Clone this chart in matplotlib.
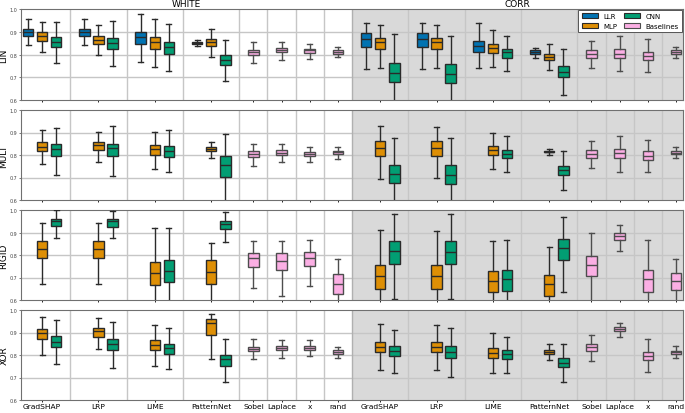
import matplotlib
matplotlib.use("Agg")
import matplotlib.pyplot as plt
from matplotlib.patches import Patch

METHODS = ["GradSHAP", "LRP", "LIME", "PatternNet"]
BASELINES = ["Sobel", "Laplace", "x", "rand"]
CONDITIONS = ["WHITE", "CORR"]
TASKS = ["LIN", "MULT", "RIGID", "XOR"]
MODELS = ["LLR", "MLP", "CNN"]

# each entry: (whisker low, q1, median, q3, whisker high)
# order: GradSHAP, LRP, LIME, PatternNet (WHITE), then the same for CORR
LIN_LLR = [
    (0.842, 0.883, 0.900, 0.912, 0.956),
    (0.842, 0.883, 0.900, 0.912, 0.956),
    (0.765, 0.845, 0.876, 0.900, 0.980),
    (0.838, 0.845, 0.851, 0.857, 0.864),
    (0.736, 0.831, 0.867, 0.896, 0.937),
    (0.736, 0.831, 0.867, 0.896, 0.937),
    (0.740, 0.813, 0.839, 0.861, 0.937),
    (0.784, 0.804, 0.812, 0.820, 0.829),
]
LIN_MLP = [
    (0.813, 0.861, 0.883, 0.898, 0.945),
    (0.800, 0.847, 0.864, 0.882, 0.931),
    (0.746, 0.825, 0.854, 0.877, 0.956),
    (0.791, 0.838, 0.854, 0.866, 0.914),
    (0.739, 0.823, 0.855, 0.874, 0.928),
    (0.739, 0.823, 0.853, 0.874, 0.928),
    (0.746, 0.807, 0.829, 0.848, 0.908),
    (0.730, 0.775, 0.791, 0.804, 0.848),
]
LIN_CNN = [
    (0.761, 0.831, 0.857, 0.877, 0.945),
    (0.748, 0.823, 0.850, 0.874, 0.946),
    (0.727, 0.804, 0.831, 0.857, 0.933),
    (0.685, 0.755, 0.777, 0.796, 0.864),
    (0.560, 0.677, 0.718, 0.761, 0.888),
    (0.555, 0.673, 0.715, 0.758, 0.883),
    (0.727, 0.785, 0.809, 0.823, 0.883),
    (0.623, 0.699, 0.723, 0.749, 0.825),
]
# order: Sobel, Laplace, x, rand (WHITE), then CORR
LIN_BASE = [
    (0.761, 0.797, 0.810, 0.820, 0.855),
    (0.777, 0.809, 0.818, 0.828, 0.857),
    (0.781, 0.807, 0.818, 0.825, 0.848),
    (0.787, 0.804, 0.812, 0.819, 0.835),
    (0.740, 0.785, 0.801, 0.818, 0.861),
    (0.726, 0.785, 0.804, 0.825, 0.883),
    (0.721, 0.775, 0.794, 0.813, 0.869),
    (0.784, 0.804, 0.812, 0.819, 0.835),
]

MULT_MLP = [
    (0.760, 0.818, 0.837, 0.856, 0.909),
    (0.769, 0.821, 0.843, 0.859, 0.903),
    (0.738, 0.801, 0.825, 0.843, 0.903),
    (0.788, 0.816, 0.826, 0.834, 0.860),
    (0.694, 0.797, 0.831, 0.863, 0.929),
    (0.699, 0.797, 0.831, 0.863, 0.926),
    (0.738, 0.800, 0.821, 0.838, 0.899),
    (0.800, 0.812, 0.815, 0.819, 0.826),
]
MULT_CNN = [
    (0.709, 0.794, 0.826, 0.851, 0.922),
    (0.706, 0.794, 0.829, 0.851, 0.931),
    (0.724, 0.793, 0.818, 0.838, 0.909),
    (0.560, 0.701, 0.754, 0.794, 0.894),
    (0.560, 0.675, 0.715, 0.754, 0.876),
    (0.555, 0.672, 0.713, 0.754, 0.875),
    (0.724, 0.785, 0.806, 0.824, 0.884),
    (0.643, 0.710, 0.732, 0.751, 0.816),
]
MULT_BASE = [
    (0.753, 0.791, 0.804, 0.816, 0.849),
    (0.769, 0.800, 0.810, 0.821, 0.847),
    (0.769, 0.796, 0.806, 0.813, 0.834),
    (0.784, 0.803, 0.812, 0.818, 0.835),
    (0.743, 0.787, 0.804, 0.821, 0.863),
    (0.725, 0.787, 0.807, 0.828, 0.884),
    (0.725, 0.778, 0.796, 0.816, 0.866),
    (0.785, 0.803, 0.810, 0.819, 0.835),
]

RIGID_MLP = [
    (0.672, 0.785, 0.827, 0.862, 0.943),
    (0.672, 0.785, 0.827, 0.862, 0.943),
    (0.560, 0.667, 0.720, 0.767, 0.919),
    (0.560, 0.673, 0.723, 0.779, 0.855),
    (0.540, 0.650, 0.708, 0.754, 0.909),
    (0.540, 0.650, 0.708, 0.754, 0.905),
    (0.560, 0.637, 0.685, 0.729, 0.862),
    (0.540, 0.619, 0.669, 0.710, 0.837),
]
RIGID_CNN = [
    (0.877, 0.928, 0.949, 0.960, 1.000),
    (0.877, 0.925, 0.949, 0.960, 0.996),
    (0.560, 0.678, 0.729, 0.776, 0.919),
    (0.859, 0.915, 0.938, 0.953, 0.991),
    (0.606, 0.761, 0.818, 0.864, 0.982),
    (0.603, 0.758, 0.815, 0.864, 0.982),
    (0.560, 0.640, 0.692, 0.733, 0.868),
    (0.635, 0.776, 0.832, 0.870, 0.969),
]
RIGID_BASE = [
    (0.653, 0.747, 0.785, 0.810, 0.862),
    (0.620, 0.733, 0.773, 0.807, 0.862),
    (0.664, 0.752, 0.785, 0.814, 0.865),
    (0.560, 0.626, 0.669, 0.714, 0.782),
    (0.560, 0.707, 0.757, 0.796, 0.896),
    (0.817, 0.868, 0.886, 0.900, 0.933),
    (0.560, 0.635, 0.692, 0.735, 0.868),
    (0.560, 0.644, 0.685, 0.722, 0.782),
]

XOR_MLP = [
    (0.799, 0.869, 0.900, 0.916, 0.968),
    (0.826, 0.882, 0.907, 0.919, 0.965),
    (0.749, 0.821, 0.843, 0.866, 0.932),
    (0.781, 0.890, 0.941, 0.962, 0.981),
    (0.732, 0.812, 0.835, 0.860, 0.937),
    (0.735, 0.812, 0.834, 0.859, 0.934),
    (0.718, 0.788, 0.810, 0.832, 0.900),
    (0.776, 0.803, 0.812, 0.821, 0.850),
]
XOR_CNN = [
    (0.759, 0.835, 0.859, 0.884, 0.954),
    (0.744, 0.824, 0.849, 0.871, 0.947),
    (0.737, 0.806, 0.831, 0.850, 0.918),
    (0.679, 0.751, 0.782, 0.800, 0.872),
    (0.722, 0.794, 0.819, 0.841, 0.913),
    (0.701, 0.785, 0.813, 0.840, 0.919),
    (0.722, 0.782, 0.803, 0.824, 0.881),
    (0.682, 0.747, 0.766, 0.785, 0.849),
]
XOR_BASE = [
    (0.781, 0.816, 0.826, 0.837, 0.871),
    (0.788, 0.821, 0.829, 0.838, 0.866),
    (0.797, 0.824, 0.832, 0.841, 0.866),
    (0.785, 0.806, 0.813, 0.821, 0.837),
    (0.775, 0.819, 0.834, 0.850, 0.891),
    (0.881, 0.907, 0.916, 0.924, 0.943),
    (0.724, 0.779, 0.797, 0.815, 0.869),
    (0.785, 0.804, 0.812, 0.819, 0.838),
]

TASK_DATA = {
    "LIN": {"LLR": LIN_LLR, "MLP": LIN_MLP, "CNN": LIN_CNN, "BASE": LIN_BASE},
    "MULT": {"LLR": None, "MLP": MULT_MLP, "CNN": MULT_CNN, "BASE": MULT_BASE},
    "RIGID": {"LLR": None, "MLP": RIGID_MLP, "CNN": RIGID_CNN, "BASE": RIGID_BASE},
    "XOR": {"LLR": None, "MLP": XOR_MLP, "CNN": XOR_CNN, "BASE": XOR_BASE},
}

COLORS = {"LLR": "#0173b2", "MLP": "#de8f05", "CNN": "#029e73", "BASE": "#fbafe4"}
EDGE = {"LLR": "#2a2a2a", "MLP": "#2a2a2a", "CNN": "#2a2a2a", "BASE": "#4d4d4d"}

# x layout: each method group takes 4 slots, each baseline 2 slots
HALF = 4 * len(METHODS) + 2 * len(BASELINES)


def method_pos(cond, i, m):
    return cond * HALF + 4 * i + 1 + m


def base_pos(cond, j):
    return cond * HALF + 4 * len(METHODS) + 2 * j + 1


def mkstats(t):
    lo, q1, med, q3, hi = t
    return dict(whislo=lo, q1=q1, med=med, q3=q3, whishi=hi, fliers=[])


fig = plt.figure(figsize=(6.85, 4.14), dpi=100)
L, R = 21 / 685, 683 / 685
rows_px = [(10, 101), (111, 201), (211, 301), (311, 401)]

seps = []
for c in range(2):
    for i in range(len(METHODS)):
        seps.append(c * HALF + 4 * (i + 1))
    for j in range(len(BASELINES)):
        seps.append(c * HALF + 4 * len(METHODS) + 2 * (j + 1))
seps = [s for s in seps if s != HALF and s < 2 * HALF]

tick_pos, tick_lab = [], []
for c in range(2):
    for i, m in enumerate(METHODS):
        tick_pos.append(method_pos(c, i, 1))
        tick_lab.append(m)
    for j, b in enumerate(BASELINES):
        tick_pos.append(base_pos(c, j))
        tick_lab.append(b)

axes = []
for r, task in enumerate(TASKS):
    top, bot = rows_px[r]
    ax = fig.add_axes([L, 1 - bot / 414, R - L, (bot - top) / 414])
    axes.append(ax)
    ax.set_xlim(0.5, 2 * HALF - 0.5)
    ax.set_ylim(0.6, 1.0)
    ax.axvspan(HALF, 2 * HALF, color="#d9d9d9", zorder=0, lw=0)
    for yv in [0.7, 0.8, 0.9]:
        ax.axhline(yv, color="#c6c6c6", lw=1.0, zorder=0.5)
    for s in seps:
        ax.axvline(s, color="#c6c6c6", lw=1.0, zorder=0.5)
    ax.axvline(HALF, color="#b0b0b0", lw=1.0, zorder=0.5)

    d = TASK_DATA[task]
    for mi, model in enumerate(MODELS):
        vals = d[model]
        if vals is None:
            continue
        stats, pos = [], []
        for c in range(2):
            for i in range(len(METHODS)):
                stats.append(mkstats(vals[c * len(METHODS) + i]))
                pos.append(method_pos(c, i, mi))
        ec = EDGE[model]
        ax.bxp(stats, positions=pos, widths=0.75, capwidths=0.35,
               patch_artist=True, showfliers=False,
               boxprops=dict(facecolor=COLORS[model], edgecolor=ec, lw=1.0),
               medianprops=dict(color=ec, lw=1.0),
               whiskerprops=dict(color=ec, lw=1.0),
               capprops=dict(color=ec, lw=1.0), zorder=3)
    vals = d["BASE"]
    stats, pos = [], []
    for c in range(2):
        for j in range(len(BASELINES)):
            stats.append(mkstats(vals[c * len(BASELINES) + j]))
            pos.append(base_pos(c, j))
    ec = EDGE["BASE"]
    ax.bxp(stats, positions=pos, widths=0.75, capwidths=0.35,
           patch_artist=True, showfliers=False,
           boxprops=dict(facecolor=COLORS["BASE"], edgecolor=ec, lw=1.0),
           medianprops=dict(color=ec, lw=1.0),
           whiskerprops=dict(color=ec, lw=1.0),
           capprops=dict(color=ec, lw=1.0), zorder=3)

    ax.set_yticks([0.6, 0.7, 0.8, 0.9, 1.0])
    ax.set_yticklabels(["0.6", "0.7", "0.8", "0.9", "1.0"], fontsize=3.5)
    ax.tick_params(axis="y", length=1.5, width=0.5, pad=1, colors="#444444")
    ax.set_xticks(tick_pos)
    if r == len(TASKS) - 1:
        ax.set_xticklabels(tick_lab, fontsize=5.4)
    else:
        ax.set_xticklabels([])
    ax.tick_params(axis="x", length=1.5, width=0.6, pad=0.6)
    ax.set_ylabel(task, fontsize=6.5, labelpad=1)
    for sp in ax.spines.values():
        sp.set_color("#707070")
        sp.set_linewidth(0.8)

axes[0].text((0.5 + HALF) / 2, 1.004, "WHITE", transform=axes[0].transData,
             ha="center", va="bottom", fontsize=6.5)
axes[0].text((HALF + 2 * HALF - 0.5) / 2, 1.004, "CORR", transform=axes[0].transData,
             ha="center", va="bottom", fontsize=6.5)

handles = [Patch(facecolor=COLORS[k], edgecolor="#2a2a2a", lw=0.8) for k in ["LLR", "MLP", "CNN"]]
handles.append(Patch(facecolor=COLORS["BASE"], edgecolor="#4d4d4d", lw=0.8))
leg = axes[0].legend(handles, ["LLR", "MLP", "CNN", "Baselines"], ncol=2,
                     loc="upper right", fontsize=5, fancybox=False,
                     edgecolor="#555555", framealpha=1, borderaxespad=0.15,
                     handlelength=2.3, handleheight=0.8, columnspacing=1.0,
                     labelspacing=0.5, borderpad=0.45)
leg.get_frame().set_linewidth(0.7)
leg.set_zorder(10)

fig.savefig("out.png", dpi=100)
